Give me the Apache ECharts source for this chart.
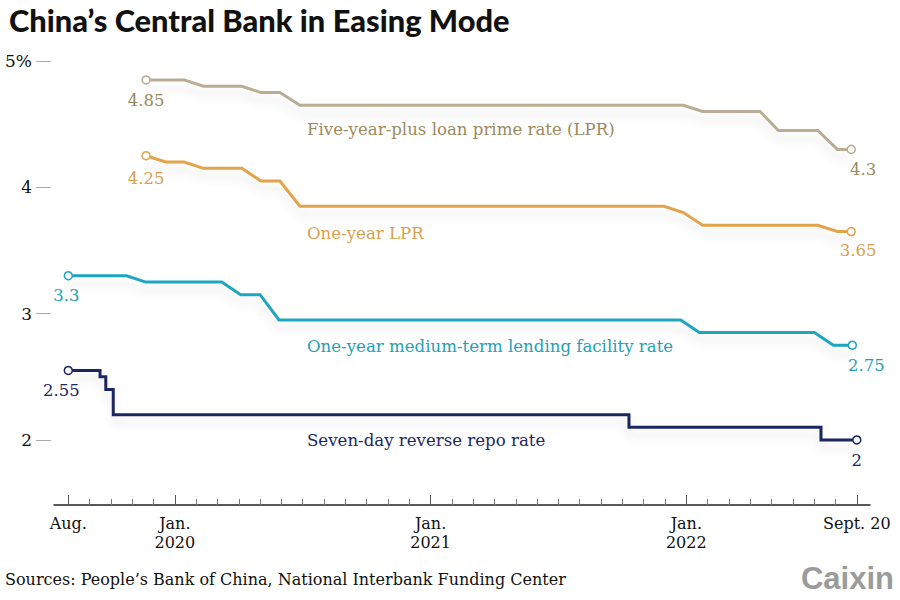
<!DOCTYPE html>
<html>
<head>
<meta charset="utf-8">
<script src="https://cdn.jsdelivr.net/npm/echarts@6/dist/echarts.min.js"></script>
<style>
html,body{margin:0;padding:0;background:#fff;}
#chart{width:900px;height:600px;}
</style>
</head>
<body>
<div id="chart"></div>
<script>
// x values: months elapsed since Aug. 2019 (0 = Aug. 2019, 37 = Sept. 2022)
const fiveYearLPR = [[3.65,4.85],[5.44,4.85],[6.34,4.80],[8.14,4.80],[9.04,4.75],[9.93,4.75],[10.87,4.65],[28.86,4.65],[29.77,4.60],[32.46,4.60],[33.32,4.45],[35.17,4.45],[36.09,4.30],[36.74,4.30]];
const oneYearLPR = [[3.65,4.25],[4.57,4.20],[5.44,4.20],[6.34,4.15],[8.14,4.15],[9.04,4.05],[9.93,4.05],[10.87,3.85],[27.95,3.85],[28.86,3.80],[29.77,3.70],[35.17,3.70],[36.09,3.65],[36.74,3.65]];
const mlfRate = [[0,3.30],[2.74,3.30],[3.63,3.25],[7.20,3.25],[8.09,3.15],[9.00,3.15],[9.89,2.95],[28.74,2.95],[29.61,2.85],[35.01,2.85],[35.90,2.75],[36.79,2.75]];
const repoRate = [[0,2.55],[1.49,2.55],[1.49,2.50],[1.76,2.50],[1.76,2.40],[2.11,2.40],[2.11,2.20],[26.31,2.20],[26.31,2.10],[35.32,2.10],[35.32,2.00],[37,2.00]];

const seriesNames = ['Five-year-plus loan prime rate (LPR)','One-year LPR','One-year medium-term lending facility rate','Seven-day reverse repo rate'];
const yTicks = [2,3,4,5];
const majorMonths = [0,5,17,29,37];
const majorLabels = ['Aug.','Jan.\n2020','Jan.\n2021','Jan.\n2022','Sept. 20'];
const allMonths = Array.from({length:38},(_,i)=>i);
const startLabels = ['4.85','4.25','3.3','2.55'];
const endLabels = ['4.3','3.65','2.75','2'];

const serif = 'DejaVu Serif';
const styles = [
  {line:'#b9ad93', text:'#9b8a5c', so:[0,0], eo:[12,0], ny:131},
  {line:'#e2a34b', text:'#d99f4e', so:[0,3], eo:[7,-1], ny:235},
  {line:'#1ea6bf', text:'#22a1b6', so:[-2,0], eo:[14,0], ny:348},
  {line:'#1c2660', text:'#1c2660', so:[-7,0], eo:[0,0], ny:442}
];
const datasets = [fiveYearLPR, oneYearLPR, mlfRate, repoRate];

function endPoint(v, txt, st, off){
  return {
    value: v, symbol:'circle', symbolSize:8,
    itemStyle:{color:'#fff', borderColor:st.line, borderWidth:1.5},
    label:{show:true, formatter:txt, position:'bottom', distance:7, offset:off,
      color:st.text, fontFamily:serif, fontSize:16.5}
  };
}

const series = datasets.map((d,i)=>{
  const st = styles[i];
  const data = d.map((p,j)=>{
    if(j===0) return endPoint(p, startLabels[i], st, st.so);
    if(j===d.length-1) return endPoint(p, endLabels[i], st, st.eo);
    return {value:p, symbol:'none'};
  });
  return {
    name: seriesNames[i], type:'line', xAxisIndex:0, data,
    symbol:'none', silent:true, animation:false, z: 3,
    lineStyle:{color:st.line, width:3, cap:'butt', join:'miter',
      shadowColor:'rgba(0,0,0,0.10)', shadowBlur:10, shadowOffsetY:8}
  };
});

const chart = echarts.init(document.getElementById('chart'), null, {renderer:'svg'});
const xMin = -0.67, xMax = 37.62;
chart.setOption({
  backgroundColor:'#fff',
  animation:false,
  title:{text:"China\u2019s Central Bank in Easing Mode", left:4, top:0,
    textStyle:{fontFamily:'Lato', fontWeight:900, fontSize:30.8, color:'#111'}},
  grid:{left:54, right:30, top:61, bottom:95},
  xAxis:[
    {type:'value', min:xMin, max:xMax, position:'bottom',
      axisLine:{show:true, onZero:false, lineStyle:{color:'#222', width:1.5}},
      axisTick:{show:true, inside:true, length:6, customValues:allMonths, lineStyle:{color:'#777', width:1}},
      axisLabel:{show:false}, splitLine:{show:false}},
    {type:'value', min:xMin, max:xMax, position:'bottom',
      axisLine:{show:false, onZero:false},
      axisTick:{show:true, inside:true, length:10, customValues:majorMonths, lineStyle:{color:'#555', width:1}},
      axisLabel:{show:true, customValues:majorMonths, margin:9, color:'#111', fontFamily:serif, fontSize:16, lineHeight:19,
        formatter:(v)=>{const k=majorMonths.indexOf(Math.round(v)); return k>=0?majorLabels[k]:'';}},
      splitLine:{show:false}}
  ],
  yAxis:{type:'value', min:1.485, max:5, offset:3,
    axisLine:{show:false, onZero:false},
    axisTick:{show:true, length:15, customValues:yTicks, lineStyle:{color:'#aaa', width:1}},
    axisLabel:{show:true, customValues:yTicks, margin:19, color:'#111', fontFamily:serif, fontSize:17,
      formatter:(v)=> v===5 ? '5%' : String(v)},
    splitLine:{show:false}},
  series,
  graphic:[
    ...seriesNames.map((n,i)=>({type:'text', left:307, top:styles[i].ny-10, silent:true,
      style:{text:n, fill:styles[i].text, font:'16.6px "DejaVu Serif"'}})),
    {type:'text', left:5, top:571, silent:true,
      style:{text:"Sources: People\u2019s Bank of China, National Interbank Funding Center", fill:'#111', font:'16px "DejaVu Serif"'}},
    {type:'text', right:6, top:563, silent:true,
      style:{text:'Caixin', fill:'#9b9b9b', font:'bold 31px "Liberation Sans"'}}
  ]
});
</script>
</body>
</html>
